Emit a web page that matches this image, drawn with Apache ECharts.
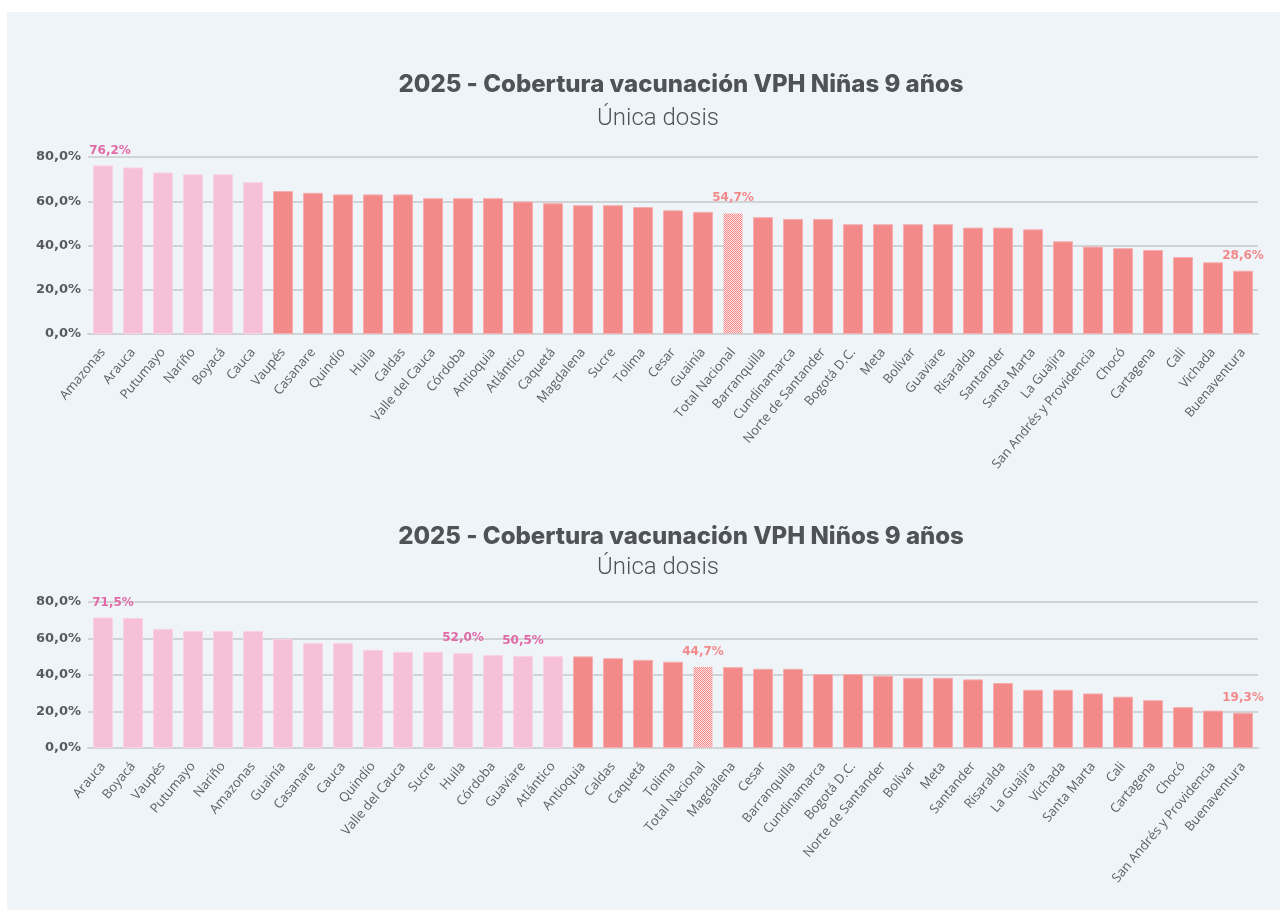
<!DOCTYPE html>
<html>
<head>
<meta charset="utf-8">
<title>Cobertura vacunación VPH 2025</title>
<script src="https://cdn.jsdelivr.net/npm/echarts@6/dist/echarts.min.js"></script>
<style>
  html, body { margin: 0; padding: 0; background: #ffffff; }
  #panel { position: absolute; left: 7px; top: 12px; width: 1273px; height: 898px; background: #eff4f9; }
  #chart { position: absolute; left: 0; top: 0; width: 1285px; height: 914px; }
</style>
</head>
<body>
<div id="panel"></div>
<div id="chart"></div>
<script>
// data - girls (Niñas)
var ninasCats = ['Amazonas', 'Arauca', 'Putumayo', 'Nariño', 'Boyacá', 'Cauca', 'Vaupés', 'Casanare', 'Quindío', 'Huila',
  'Caldas', 'Valle del Cauca', 'Córdoba', 'Antioquia', 'Atlántico', 'Caquetá', 'Magdalena', 'Sucre', 'Tolima', 'Cesar',
  'Guainía', 'Total Nacional', 'Barranquilla', 'Cundinamarca', 'Norte de Santander', 'Bogotá D.C.', 'Meta', 'Bolívar', 'Guaviare', 'Risaralda',
  'Santander', 'Santa Marta', 'La Guajira', 'San Andrés y Providencia', 'Chocó', 'Cartagena', 'Cali', 'Vichada', 'Buenaventura'];
var ninasVals = [76.2, 75.3, 73.0, 72.2, 72.2, 68.6, 64.6, 63.8, 63.1, 63.1,
  63.1, 61.4, 61.4, 61.4, 59.9, 59.1, 58.2, 58.2, 57.4, 55.9,
  55.2, 54.7, 52.8, 52.0, 52.0, 49.6, 49.6, 49.6, 49.6, 48.1,
  48.1, 47.3, 41.9, 39.5, 38.8, 38.0, 34.8, 32.4, 28.6];
var ninasPink = 6;
var ninasLabeled = ['Amazonas', 'Total Nacional', 'Buenaventura'];

// data - boys (Niños)
var ninosCats = ['Arauca', 'Boyacá', 'Vaupés', 'Putumayo', 'Nariño', 'Amazonas', 'Guainía', 'Casanare', 'Cauca', 'Quindío',
  'Valle del Cauca', 'Sucre', 'Huila', 'Córdoba', 'Guaviare', 'Atlántico', 'Antioquia', 'Caldas', 'Caquetá', 'Tolima',
  'Total Nacional', 'Magdalena', 'Cesar', 'Barranquilla', 'Cundinamarca', 'Bogotá D.C.', 'Norte de Santander', 'Bolívar', 'Meta', 'Santander',
  'Risaralda', 'La Guajira', 'Vichada', 'Santa Marta', 'Cali', 'Cartagena', 'Chocó', 'San Andrés y Providencia', 'Buenaventura'];
var ninosVals = [71.5, 71.2, 65.3, 64.2, 64.2, 64.2, 59.8, 57.6, 57.6, 53.8,
  52.7, 52.7, 52.0, 51.0, 50.5, 50.3, 50.2, 49.2, 48.3, 47.3,
  44.7, 44.3, 43.4, 43.4, 40.5, 40.5, 39.6, 38.5, 38.5, 37.6,
  35.6, 31.9, 31.9, 29.9, 28.1, 26.2, 22.4, 20.5, 19.3];
var ninosPink = 16;
var ninosLabeled = ['Arauca', 'Huila', 'Guaviare', 'Total Nacional', 'Buenaventura'];

var yMin = 0, yMax = 80, yStep = 20;

// colours
var PINK = '#f7c0d9', PINK_EDGE = '#f9d3e4', PINK_TXT = '#e16aa7';
var RED = '#f38a8a', RED_EDGE = '#f6aeae', RED_TXT = '#f38a8a';
var GRID = '#d1d4d7', TXT = '#575b5f';

// checkered fill for the national total
var pc = document.createElement('canvas');
pc.width = 2; pc.height = 2;
var pctx = pc.getContext('2d');
pctx.fillStyle = '#fbe3e3'; pctx.fillRect(0, 0, 2, 2);
pctx.fillStyle = RED; pctx.fillRect(0, 0, 1, 1); pctx.fillRect(1, 1, 1, 1);

function pct(v) { return v.toFixed(1).replace('.', ',') + '%'; }

function buildData(cats, vals, pinkCount, labeled, firstOffset) {
  return vals.map(function (v, i) {
    var isPink = i < pinkCount;
    var isTotal = cats[i] === 'Total Nacional';
    var item = {
      value: v,
      itemStyle: {
        color: isTotal ? { image: pc, repeat: 'repeat' } : (isPink ? PINK : RED),
        borderColor: isTotal ? 'rgba(0,0,0,0)' : (isPink ? PINK_EDGE : RED_EDGE),
        borderWidth: 1
      }
    };
    if (labeled.indexOf(cats[i]) >= 0) {
      item.label = {
        show: true,
        position: 'top',
        distance: 9,
        offset: i === 0 ? firstOffset : [0, 0],
        color: isPink ? PINK_TXT : RED_TXT,
        fontFamily: 'DejaVu Sans',
        fontWeight: 'bold',
        fontSize: 12,
        formatter: function (p) { return pct(p.value); }
      };
    }
    return item;
  });
}

function xAxis(idx, cats) {
  return {
    gridIndex: idx, type: 'category', data: cats,
    axisTick: { show: false },
    axisLine: { lineStyle: { color: GRID, width: 2 } },
    axisLabel: { interval: 0, rotate: 50, margin: 16, fontFamily: 'Open Sans', fontSize: 13, color: '#5d6165' }
  };
}

function yAxis(idx) {
  return {
    gridIndex: idx, type: 'value', min: yMin, max: yMax, interval: yStep,
    axisLine: { show: false }, axisTick: { show: false },
    splitLine: { lineStyle: { color: GRID, width: 2 } },
    axisLabel: { margin: 7, fontFamily: 'DejaVu Sans', fontWeight: 'bold', fontSize: 13, color: TXT, formatter: pct }
  };
}

function titleText(x, y, txt, font) {
  return { type: 'text', x: x, y: y, silent: true,
    style: { text: txt, font: font, fill: '#4f5356', align: 'center', verticalAlign: 'middle' } };
}

var chart = echarts.init(document.getElementById('chart'));
chart.setOption({
  animation: false,
  graphic: [
    titleText(681, 85, '2025 - Cobertura vacunación VPH Niñas 9 años', '800 24px Inter'),
    titleText(658, 119, 'Única dosis', '300 24px Roboto'),
    titleText(681, 537, '2025 - Cobertura vacunación VPH Niños 9 años', '800 24px Inter'),
    titleText(658, 568, 'Única dosis', '300 24px Roboto')
  ],
  grid: [
    { left: 88, top: 157, width: 1170, height: 177 },
    { left: 88, top: 602, width: 1170, height: 146 }
  ],
  xAxis: [xAxis(0, ninasCats), xAxis(1, ninosCats)],
  yAxis: [yAxis(0), yAxis(1)],
  series: [
    { type: 'bar', xAxisIndex: 0, yAxisIndex: 0, barWidth: 20,
      data: buildData(ninasCats, ninasVals, ninasPink, ninasLabeled, [7, 0]) },
    { type: 'bar', xAxisIndex: 1, yAxisIndex: 1, barWidth: 20,
      data: buildData(ninosCats, ninosVals, ninosPink, ninosLabeled, [10, 0]) }
  ]
});
</script>
</body>
</html>
